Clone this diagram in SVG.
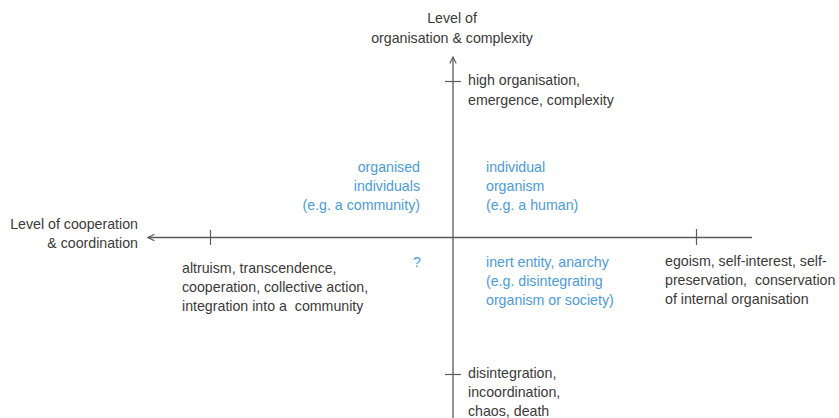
<svg xmlns="http://www.w3.org/2000/svg" width="839" height="418" viewBox="0 0 839 418">
  <style>
    text { font-family: "Liberation Sans", Arial, sans-serif; font-size: 14.2px; white-space: pre; }
    .dark { fill: #3a3a3a; }
    .blue { fill: #4c9bdc; }
    .axis { stroke: #5a5a5a; stroke-width: 1.3; fill: none; }
    .tick { stroke: #5a5a5a; stroke-width: 1.2; }
    .end { text-anchor: end; }
    .mid { text-anchor: middle; }
  </style>
  <defs>
    <marker id="openArrow" viewBox="0 0 10 10" refX="9" refY="5" markerWidth="8" markerHeight="8" markerUnits="userSpaceOnUse" orient="auto">
      <path d="M1,1 L9,5 L1,9" fill="none" stroke="#5a5a5a" stroke-width="1.4"/>
    </marker>
  </defs>

  <!-- axes and ticks -->
  <g id="connectors">
    <line class="axis" x1="752" y1="237.5" x2="148" y2="237.5" marker-end="url(#openArrow)"/>
    <line class="axis" x1="453" y1="418" x2="453" y2="57" marker-end="url(#openArrow)"/>
    <line class="tick" x1="210.5" y1="230" x2="210.5" y2="245"/>
    <line class="tick" x1="696.5" y1="229" x2="696.5" y2="245"/>
    <line class="tick" x1="445" y1="81.5" x2="461" y2="81.5"/>
    <line class="tick" x1="445" y1="374.5" x2="461" y2="374.5"/>
  </g>

  <g id="y-axis-label">
    <text class="dark mid" x="452" y="23">Level of</text>
    <text class="dark mid" x="452" y="43">organisation &amp; complexity</text>
  </g>

  <g id="x-axis-label">
    <text class="dark end" x="138" y="229">Level of cooperation</text>
    <text class="dark end" x="138" y="248">&amp; coordination</text>
  </g>

  <g id="high-organisation">
    <text class="dark" x="468" y="85">high organisation,</text>
    <text class="dark" x="468" y="105">emergence, complexity</text>
  </g>

  <g id="organised-individuals">
    <text class="blue end" x="420" y="172">organised</text>
    <text class="blue end" x="420" y="191">individuals</text>
    <text class="blue end" x="420" y="210">(e.g. a community)</text>
  </g>

  <g id="individual-organism">
    <text class="blue" x="486" y="172">individual</text>
    <text class="blue" x="486" y="191">organism</text>
    <text class="blue" x="486" y="210">(e.g. a human)</text>
  </g>

  <g id="altruism">
    <text class="dark" x="182" y="273">altruism, transcendence,</text>
    <text class="dark" x="182" y="292">cooperation, collective action,</text>
    <text class="dark" x="182" y="311">integration into a  community</text>
  </g>

  <g id="unknown">
    <text class="blue mid" x="417" y="267">?</text>
  </g>

  <g id="inert-entity">
    <text class="blue" x="486" y="267">inert entity, anarchy</text>
    <text class="blue" x="486" y="286">(e.g. disintegrating</text>
    <text class="blue" x="486" y="305">organism or society)</text>
  </g>

  <g id="egoism">
    <text class="dark" x="665" y="266">egoism, self-interest, self-</text>
    <text class="dark" x="665" y="285">preservation,  conservation</text>
    <text class="dark" x="665" y="304">of internal organisation</text>
  </g>

  <g id="disintegration">
    <text class="dark" x="468" y="378">disintegration,</text>
    <text class="dark" x="468" y="397">incoordination,</text>
    <text class="dark" x="468" y="416">chaos, death</text>
  </g>
</svg>
